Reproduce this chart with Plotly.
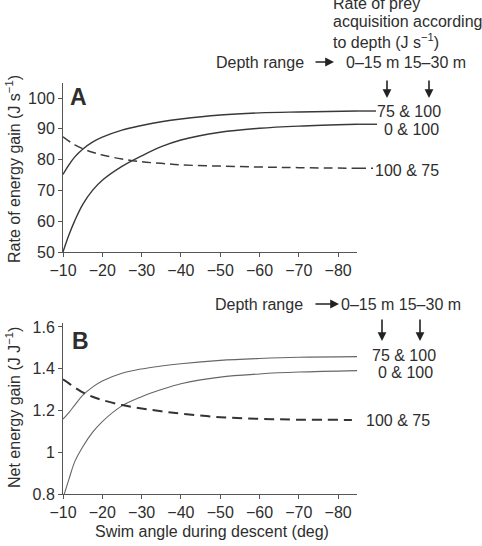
import plotly.graph_objects as go

W, H = 482, 546

# ---- data ----
angle = [-10, -11.5, -13, -15, -17.5, -20, -25, -30, -35, -40, -50, -60, -70, -85]

a_75_100 = [75.2, 78.3, 80.9, 83.4, 85.7, 87.3, 89.6, 91.1, 92.3, 93.2, 94.5, 95.2, 95.5, 95.8]
a_0_100 = [50.0, 55.5, 60.2, 65.4, 70.0, 73.3, 77.8, 81.2, 84.2, 86.4, 88.9, 90.2, 90.9, 91.5]
a_100_75 = [87.4, 86.0, 84.8, 83.6, 82.4, 81.5, 80.2, 79.3, 78.8, 78.3, 77.9, 77.6, 77.4, 77.2]

b_75_100 = [1.159, 1.19, 1.226, 1.272, 1.312, 1.341, 1.378, 1.399, 1.413, 1.424, 1.440, 1.449, 1.455, 1.458]
b_0_100 = [0.78, 0.87, 0.955, 1.025, 1.095, 1.147, 1.222, 1.266, 1.30, 1.328, 1.36, 1.375, 1.384, 1.391]
b_100_75 = [1.349, 1.33, 1.31, 1.287, 1.266, 1.25, 1.226, 1.21, 1.196, 1.185, 1.168, 1.160, 1.156, 1.155]
b_dash_angle = [-10, -11.5, -13, -15, -17.5, -20, -25, -30, -35, -40, -50, -60, -70, -83.5]

x_ticks = [-10, -20, -30, -40, -50, -60, -70, -80]
x_ticktext = ["\u221210", "\u221220", "\u221230", "\u221240", "\u221250", "\u221260", "\u221270", "\u221280"]
ya_ticks = [50, 60, 70, 80, 90, 100]
yb_ticks = [0.8, 1.0, 1.2, 1.4, 1.6]
yb_ticktext = ["0.8", "1", "1.2", "1.4", "1.6"]

labels = ["75 & 100", "0 & 100", "100 & 75"]

FONT = "Liberation Sans, Arial, Helvetica, sans-serif"
TXT = "#2e2e2e"
FS = 16


def px(x):
    return x / W


def py(y):
    return 1 - y / H


fig = go.Figure()

# Panel A
fig.add_trace(go.Scatter(x=angle, y=a_75_100, mode="lines", line=dict(color="#383838", width=1.4, shape="spline"),
                         xaxis="x", yaxis="y", name=labels[0]))
fig.add_trace(go.Scatter(x=angle, y=a_0_100, mode="lines", line=dict(color="#383838", width=1.4, shape="spline"),
                         xaxis="x", yaxis="y", name=labels[1]))
fig.add_trace(go.Scatter(x=angle, y=a_100_75, mode="lines",
                         line=dict(color="#3c3c3c", width=1.5, shape="spline", dash="9px,5px"),
                         xaxis="x", yaxis="y", name=labels[2]))

# Panel B
fig.add_trace(go.Scatter(x=angle, y=b_75_100, mode="lines", line=dict(color="#666", width=1.1, shape="spline"),
                         xaxis="x2", yaxis="y2", name=labels[0]))
fig.add_trace(go.Scatter(x=angle, y=b_0_100, mode="lines", line=dict(color="#666", width=1.1, shape="spline"),
                         xaxis="x2", yaxis="y2", name=labels[1]))
fig.add_trace(go.Scatter(x=b_dash_angle, y=b_100_75, mode="lines",
                         line=dict(color="#333", width=2, shape="spline", dash="10px,6px"),
                         xaxis="x2", yaxis="y2", name=labels[2]))

axis_common = dict(showline=True, linecolor="#555", linewidth=1, ticks="outside", ticklen=4,
                   tickcolor="#555", showgrid=False, zeroline=False, automargin=False,
                   tickfont=dict(family=FONT, size=FS, color=TXT))

xdom = [px(63), px(357)]
xr = [-10, -84.8]

fig.update_layout(
    template="none",
    width=W, height=H,
    margin=dict(l=0, r=0, t=0, b=0, pad=0),
    paper_bgcolor="white", plot_bgcolor="white",
    showlegend=False,
    font=dict(family=FONT, size=FS, color=TXT),
    xaxis=dict(domain=xdom, range=xr, anchor="y", tickvals=x_ticks, ticktext=x_ticktext, **axis_common),
    yaxis=dict(domain=[py(252), py(83)], range=[50, 104.9], anchor="x", tickvals=ya_ticks, **axis_common),
    xaxis2=dict(domain=xdom, range=xr, anchor="y2", tickvals=x_ticks, ticktext=x_ticktext, **axis_common),
    yaxis2=dict(domain=[py(494), py(323)], range=[0.8, 1.619], anchor="x2", tickvals=yb_ticks,
                ticktext=yb_ticktext, **axis_common),
)

# leader lines in panel A, from curve ends to labels
shapes = [
    dict(type="line", xref="paper", yref="y", x0=px(357), x1=px(376), y0=a_75_100[-1], y1=a_75_100[-1],
         line=dict(color="#383838", width=1.4)),
    dict(type="line", xref="paper", yref="y", x0=px(357), x1=px(377), y0=a_0_100[-1], y1=a_0_100[-1],
         line=dict(color="#383838", width=1.4)),
    dict(type="line", xref="paper", yref="y", x0=px(357), x1=px(373), y0=a_100_75[-1], y1=a_100_75[-1],
         line=dict(color="#3c3c3c", width=1.5, dash="9px,5px")),
]
fig.update_layout(shapes=shapes)

ann = []


def text(x, y, s, xanchor="left", size=FS, **kw):
    ann.append(dict(x=px(x), y=py(y), xref="paper", yref="paper", text=s, showarrow=False,
                    xanchor=xanchor, yanchor="middle", font=dict(family=FONT, size=size, color=TXT), **kw))


def arrow(x0, y0, x1, y1):
    ann.append(dict(x=px(x1), y=py(y1), xref="paper", yref="paper", ax=x0 - x1, ay=y0 - y1,
                    axref="pixel", ayref="pixel", text="", showarrow=True, arrowhead=2, arrowsize=1.1,
                    arrowwidth=1.6, arrowcolor="#222"))


# Panel letters
text(78, 97, "<b>A</b>", xanchor="center", size=23)
text(80, 341, "<b>B</b>", xanchor="center", size=23)

# Axis titles
ann.append(dict(x=px(13), y=py(169), xref="paper", yref="paper", text="Rate of energy gain (J s<sup>\u22121</sup>)",
                showarrow=False, textangle=-90, xanchor="center", yanchor="middle",
                font=dict(family=FONT, size=FS, color=TXT)))
ann.append(dict(x=px(13), y=py(408), xref="paper", yref="paper", text="Net energy gain (J J<sup>\u22121</sup>)",
                showarrow=False, textangle=-90, xanchor="center", yanchor="middle",
                font=dict(family=FONT, size=FS, color=TXT)))
text(212, 531, "Swim angle during descent (deg)", xanchor="center")

# Panel A header
text(331, 4, "Rate of prey")
text(331, 22, "acquisition according")
text(331, 41, "to depth (J s<sup>\u22121</sup>)")
text(306, 62, "Depth range", xanchor="right")
arrow(314, 62, 334, 62)
text(344, 62, "0\u201315 m 15\u201330 m")
arrow(387, 79, 387, 98)
arrow(429, 79, 429, 98)

# Panel A curve labels
text(375, 112, labels[0])
text(441, 129, labels[1], xanchor="right")
text(373, 170, labels[2])

# Panel B header
text(305, 304, "Depth range", xanchor="right")
arrow(314, 304, 339, 304)
text(339, 304, "0\u201315 m 15\u201330 m")
arrow(382, 318, 382, 341)
arrow(420, 318, 420, 341)

# Panel B curve labels
text(370, 355, labels[0])
text(435, 372, labels[1], xanchor="right")
text(364, 420, labels[2])

fig.update_layout(annotations=ann)

fig.write_html("out.html")
